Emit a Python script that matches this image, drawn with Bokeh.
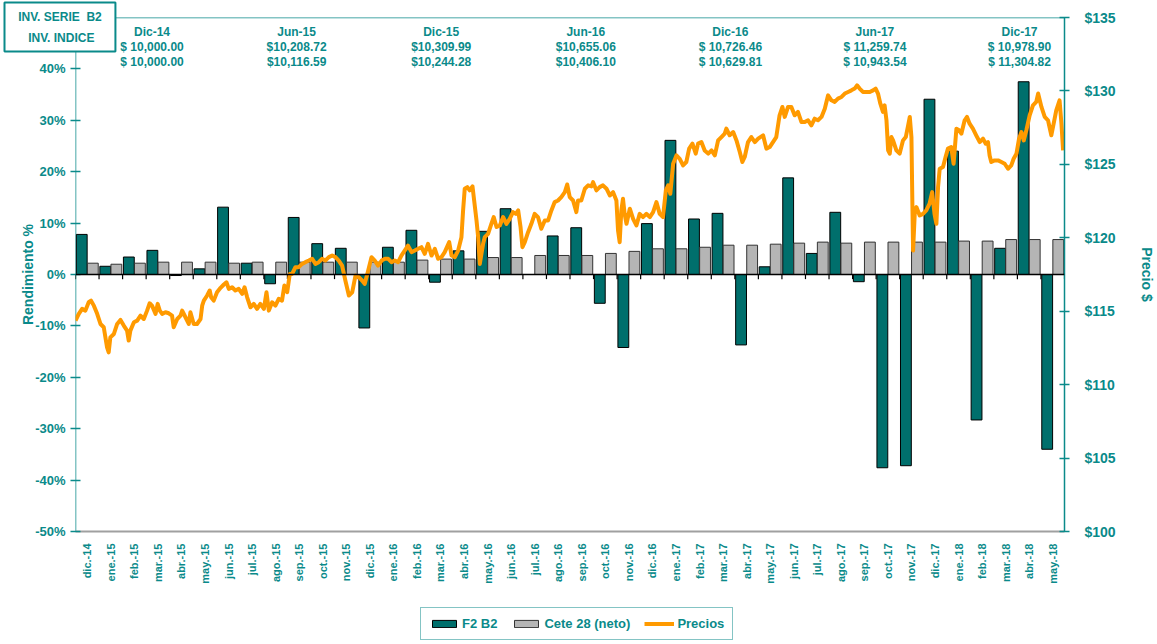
import math
from bokeh.plotting import figure
from bokeh.layouts import column
from bokeh.models import (Range1d, LinearAxis, FixedTicker, Span, Legend,
                          LegendItem, ColumnDataSource)
from bokeh.core.properties import value
from bokeh.embed import file_html
from bokeh.resources import INLINE

# ---------------- data ----------------
months = ["dic.-14", "ene.-15", "feb.-15", "mar.-15", "abr.-15", "may.-15", "jun.-15",
          "jul.-15", "ago.-15", "sep.-15", "oct.-15", "nov.-15", "dic.-15", "ene.-16",
          "feb.-16", "mar.-16", "abr.-16", "may.-16", "jun.-16", "jul.-16", "ago.-16",
          "sep.-16", "oct.-16", "nov.-16", "dic.-16", "ene.-17", "feb.-17", "mar.-17",
          "abr.-17", "may.-17", "jun.-17", "jul.-17", "ago.-17", "sep.-17", "oct.-17",
          "nov.-17", "dic.-17", "ene.-18", "feb.-18", "mar.-18", "abr.-18", "may.-18"]

f2_b2 = [7.8, 1.6, 3.4, 4.7, -0.2, 1.1, 13.1, 2.2, -1.8, 11.1, 6.0, 5.1, -10.4, 5.3,
         8.6, -1.5, 4.6, 8.4, 12.8, 0.0, 7.5, 9.1, -5.6, -14.2, 9.9, 26.1, 10.8, 11.9,
         -13.7, 1.5, 18.8, 4.1, 12.1, -1.4, -37.6, -37.2, 34.1, 24.0, -28.3, 5.1, 37.5, -34.0]

cete28 = [2.2, 2.0, 2.2, 2.4, 2.4, 2.4, 2.2, 2.4, 2.4, 2.4, 2.4, 2.4, 2.4, 2.4,
          2.8, 3.0, 3.0, 3.3, 3.3, 3.7, 3.7, 3.7, 4.1, 4.5, 5.0, 5.0, 5.3, 5.7,
          5.7, 5.9, 6.1, 6.3, 6.1, 6.3, 6.3, 6.3, 6.3, 6.5, 6.5, 6.8, 6.8, 6.8]

# price series: (months elapsed since start of dic-14, price $)
precios = [
    (0.00, 114.36), (0.14, 114.82), (0.28, 115.16), (0.42, 115.04), (0.56, 115.61), (0.66, 115.72),
    (0.78, 115.38), (0.92, 114.82), (1.06, 114.13), (1.20, 113.91), (1.34, 112.54), (1.41, 112.20),
    (1.48, 113.22), (1.63, 113.45), (1.77, 114.13), (1.91, 114.41), (2.05, 114.02), (2.19, 113.68),
    (2.26, 113.00), (2.33, 113.68), (2.48, 114.25), (2.62, 114.36), (2.76, 114.70), (2.90, 114.47),
    (3.04, 115.04), (3.15, 115.54), (3.25, 115.38), (3.40, 114.82), (3.49, 115.50), (3.58, 115.04),
    (3.68, 114.82), (3.82, 114.93), (3.96, 114.86), (4.10, 114.70), (4.17, 113.91), (4.32, 114.47),
    (4.46, 114.70), (4.53, 115.04), (4.67, 114.59), (4.81, 114.13), (4.88, 114.93), (5.02, 114.13),
    (5.16, 114.13), (5.31, 114.47), (5.38, 115.38), (5.45, 115.72), (5.59, 116.07), (5.70, 116.41),
    (5.76, 115.95), (5.87, 115.72), (6.01, 116.29), (6.16, 116.59), (6.30, 116.82), (6.41, 116.97),
    (6.51, 116.52), (6.65, 116.63), (6.79, 116.41), (6.93, 116.52), (7.08, 116.18), (7.18, 116.63),
    (7.29, 115.95), (7.43, 115.27), (7.57, 115.50), (7.71, 115.16), (7.85, 115.50), (8.00, 115.16),
    (8.11, 116.29), (8.21, 115.04), (8.35, 115.61), (8.49, 115.38), (8.63, 115.84), (8.77, 115.72),
    (8.87, 116.75), (8.99, 116.29), (9.10, 117.54), (9.20, 117.54), (9.34, 118.00), (9.48, 118.00),
    (9.62, 118.22), (9.76, 118.34), (9.91, 118.45), (10.05, 118.57), (10.19, 118.22), (10.33, 118.34),
    (10.47, 118.57), (10.61, 118.45), (10.76, 118.68), (10.90, 118.79), (11.04, 118.68), (11.18, 118.45),
    (11.32, 118.11), (11.46, 117.09), (11.61, 116.07), (11.75, 116.29), (11.89, 117.43), (12.03, 117.32),
    (12.17, 117.09), (12.28, 116.86), (12.43, 117.77), (12.57, 118.68), (12.71, 118.45), (12.85, 118.11),
    (13.00, 118.45), (13.14, 118.57), (13.28, 118.57), (13.42, 118.34), (13.56, 118.45), (13.70, 118.34),
    (13.84, 118.79), (13.98, 119.13), (14.12, 119.47), (14.27, 119.02), (14.41, 119.13), (14.55, 119.25),
    (14.69, 119.36), (14.83, 118.91), (14.97, 119.59), (15.12, 118.79), (15.26, 119.25), (15.40, 118.57),
    (15.54, 118.68), (15.68, 119.02), (15.87, 119.70), (15.97, 118.79), (16.11, 118.68), (16.25, 119.13),
    (16.39, 120.04), (16.46, 121.86), (16.53, 123.34), (16.64, 123.45), (16.74, 123.23), (16.86, 123.50),
    (16.93, 122.54), (17.03, 121.18), (17.10, 120.04), (17.17, 118.22), (17.24, 118.91), (17.31, 119.59),
    (17.38, 120.04), (17.52, 120.27), (17.66, 120.95), (17.76, 121.41), (17.88, 120.73), (18.02, 120.84),
    (18.16, 121.41), (18.30, 120.95), (18.44, 121.29), (18.58, 121.75), (18.70, 121.63), (18.80, 121.86),
    (18.90, 120.73), (18.98, 119.36), (19.08, 119.70), (19.22, 120.38), (19.36, 120.95), (19.50, 121.63),
    (19.64, 121.41), (19.78, 120.61), (19.93, 121.18), (20.07, 121.18), (20.21, 121.86), (20.35, 122.43),
    (20.49, 122.54), (20.63, 122.77), (20.78, 123.11), (20.88, 123.63), (20.99, 122.77), (21.13, 122.54),
    (21.27, 121.75), (21.34, 122.54), (21.48, 122.54), (21.63, 123.34), (21.77, 123.57), (21.91, 123.50),
    (21.98, 123.79), (22.12, 123.23), (22.26, 123.45), (22.40, 123.57), (22.55, 123.34), (22.69, 122.88),
    (22.83, 123.11), (22.97, 122.54), (23.04, 120.50), (23.11, 119.70), (23.18, 121.86), (23.25, 122.66),
    (23.32, 121.63), (23.40, 120.95), (23.54, 121.98), (23.68, 121.29), (23.82, 120.84), (23.96, 121.63),
    (24.10, 121.41), (24.24, 121.63), (24.39, 121.41), (24.53, 121.75), (24.67, 122.43), (24.81, 121.63),
    (24.95, 121.41), (25.07, 123.23), (25.17, 123.57), (25.26, 123.00), (25.38, 125.04), (25.52, 125.61),
    (25.66, 125.38), (25.80, 124.93), (25.94, 125.16), (26.06, 126.07), (26.20, 126.41), (26.34, 125.73),
    (26.44, 126.41), (26.58, 126.52), (26.72, 125.95), (26.87, 125.73), (27.01, 125.95), (27.15, 125.61),
    (27.29, 126.63), (27.43, 126.86), (27.57, 127.09), (27.64, 127.43), (27.78, 126.98), (27.93, 127.20),
    (28.07, 126.63), (28.21, 125.84), (28.32, 125.16), (28.42, 125.50), (28.56, 126.52), (28.70, 126.86),
    (28.85, 126.52), (28.99, 126.75), (29.20, 126.98), (29.34, 126.07), (29.48, 126.18), (29.62, 126.52),
    (29.76, 126.86), (29.90, 128.34), (30.02, 128.91), (30.12, 128.23), (30.26, 128.91), (30.40, 128.91),
    (30.54, 128.34), (30.68, 128.57), (30.83, 127.88), (30.97, 127.88), (31.11, 128.00), (31.25, 127.66),
    (31.39, 128.11), (31.53, 128.00), (31.68, 128.23), (31.82, 128.79), (31.96, 129.70), (32.10, 129.36),
    (32.24, 129.25), (32.38, 129.48), (32.53, 129.59), (32.67, 129.82), (32.81, 129.93), (32.95, 130.04),
    (33.09, 130.16), (33.19, 130.38), (33.30, 130.16), (33.44, 129.93), (33.59, 129.93), (33.73, 129.93),
    (33.87, 130.04), (33.98, 130.16), (34.08, 129.82), (34.18, 129.13), (34.29, 128.57), (34.36, 129.02),
    (34.44, 128.00), (34.51, 125.95), (34.58, 125.73), (34.65, 126.86), (34.72, 126.63), (34.86, 125.95),
    (35.00, 125.73), (35.14, 126.63), (35.26, 126.86), (35.36, 127.66), (35.43, 128.23), (35.50, 126.86),
    (35.54, 122.32), (35.57, 119.13), (35.64, 121.63), (35.71, 122.09), (35.85, 121.52), (35.99, 121.63),
    (36.13, 121.86), (36.27, 122.32), (36.38, 123.11), (36.48, 121.63), (36.56, 120.95), (36.63, 123.45),
    (36.70, 124.70), (36.84, 124.82), (36.95, 125.50), (37.05, 126.07), (37.19, 126.18), (37.29, 125.04),
    (37.41, 127.43), (37.52, 127.32), (37.62, 127.09), (37.76, 128.00), (37.86, 128.23), (37.97, 127.77),
    (38.11, 127.43), (38.25, 126.98), (38.40, 126.52), (38.54, 126.75), (38.65, 126.41), (38.75, 126.52),
    (38.82, 125.61), (38.89, 125.16), (39.03, 125.27), (39.18, 125.27), (39.32, 125.16), (39.46, 125.04),
    (39.60, 124.70), (39.74, 124.93), (39.84, 125.38), (39.96, 125.73), (40.07, 126.75), (40.17, 127.20),
    (40.27, 126.63), (40.38, 127.32), (40.52, 128.34), (40.66, 129.02), (40.80, 129.25), (40.88, 129.82),
    (41.02, 128.91), (41.16, 128.23), (41.30, 128.00), (41.44, 126.98), (41.51, 127.54), (41.65, 128.68),
    (41.79, 129.36), (41.87, 127.77), (41.94, 125.95),
]

summary_dates = ["Dic-14", "Jun-15", "Dic-15", "Jun-16", "Dic-16", "Jun-17", "Dic-17"]
serie_b2 = ["$ 10,000.00", "$10,208.72", "$10,309.99", "$10,655.06",
            "$ 10,726.46", "$ 11,259.74", "$ 10,978.90"]
inv_indice = ["$ 10,000.00", "$10,116.59", "$10,244.28", "$10,406.10",
              "$ 10,629.81", "$ 10,943.54", "$ 11,304.82"]
NB = "\u00a0"
box_text = NB * 2 + "INV. SERIE" + NB + " B2" + NB * 2 + "\n" + NB * 5 + "INV. INDICE"

left_ticks = [-50, -40, -30, -20, -10, 0, 10, 20, 30, 40]
right_ticks = [100, 105, 110, 115, 120, 125, 130, 135]

# ---------------- style ----------------
TEAL = "#0A8A8A"
BAR_TEAL = "#006F6C"
BAR_GRAY = "#B5B5B5"
ORANGE = "#FF9A00"
FONT = "Liberation Sans"

n = len(months)

p = figure(width=1157, height=600, output_backend="svg", toolbar_location=None,
           x_range=Range1d(0, n), y_range=Range1d(-50, 50),
           min_border_left=75, min_border_right=93, min_border_top=17, min_border_bottom=69,
           background_fill_color="white", border_fill_color="white")
p.xgrid.visible = False
p.ygrid.visible = False
p.outline_line_color = None

# frame edges (top, left)
p.add_layout(Span(location=50, dimension="width", line_color=TEAL, line_width=1.5, level="underlay"))
p.add_layout(Span(location=0, dimension="height", line_color=TEAL, line_width=1.5, level="underlay"))

# caption box (figure title pulled down over the top-left corner)
t = p.title
t.text = box_text
t.align = "left"
t.offset = -71
t.standoff = -68
t.text_color = TEAL
t.text_font = FONT
t.text_font_style = "bold"
t.text_font_size = "12px"
t.border_line_color = TEAL
t.border_line_width = 2
t.background_fill_color = "white"
t.padding = 7
try:
    t.text_line_height = 1.5
except Exception:
    pass

# x axis (categories)
xa = p.xaxis[0]
xa.ticker = FixedTicker(ticks=[i + 0.5 for i in range(n)])
xa.major_label_overrides = {i + 0.5: m for i, m in enumerate(months)}
xa.major_label_orientation = math.pi / 2
xa.major_label_text_color = TEAL
xa.major_label_text_font = FONT
xa.major_label_text_font_style = "bold"
xa.major_label_text_font_size = "11px"
xa.major_label_standoff = 6
xa.major_tick_line_color = None
xa.minor_tick_line_color = None
xa.axis_line_color = "#A0A0A0"
xa.axis_line_width = 2

# left axis
ya = p.yaxis[0]
ya.ticker = FixedTicker(ticks=left_ticks)
ya.major_label_overrides = {v: f"{v}%" for v in left_ticks}
ya.major_label_text_color = TEAL
ya.major_label_text_font = FONT
ya.major_label_text_font_style = "bold"
ya.major_label_text_font_size = "13px"
ya.axis_line_color = None
ya.major_tick_line_color = TEAL
ya.major_tick_line_width = 1.5
ya.major_tick_in = 5
ya.major_tick_out = 5
ya.minor_tick_line_color = None
ya.axis_label = "Rendimiento %"
ya.axis_label_text_color = TEAL
ya.axis_label_text_font = FONT
ya.axis_label_text_font_style = "bold"
ya.axis_label_text_font_size = "14px"
ya.axis_label_standoff = -4

# right axis (price)
p.extra_y_ranges = {"precio": Range1d(100, 135)}
ra = LinearAxis(y_range_name="precio", ticker=FixedTicker(ticks=right_ticks),
                major_label_overrides={v: f"${v}" for v in right_ticks},
                axis_label="Precio $")
ra.major_label_text_color = TEAL
ra.major_label_text_font = FONT
ra.major_label_text_font_style = "bold"
ra.major_label_text_font_size = "14px"
ra.axis_line_color = TEAL
ra.axis_line_width = 1.5
ra.major_tick_line_color = TEAL
ra.major_tick_line_width = 1.5
ra.major_tick_in = 5
ra.major_tick_out = 5
ra.minor_tick_line_color = None
ra.major_label_standoff = 15
ra.axis_label_text_color = TEAL
ra.axis_label_text_font = FONT
ra.axis_label_text_font_style = "bold"
ra.axis_label_text_font_size = "14px"
ra.axis_label_standoff = 20
p.add_layout(ra, "right")

# bars
src = ColumnDataSource(dict(
    xf=[i + 0.265 for i in range(n)],
    xc=[i + 0.735 for i in range(n)],
    f2=f2_b2, cete=cete28))
bar_f2_style = dict(fill_color=BAR_TEAL, line_color="black", line_width=1)
bar_ce_style = dict(fill_color=BAR_GRAY, line_color="#333333", line_width=1)
line_style = dict(line_color=ORANGE, line_width=4, line_join="round")

p.vbar(x="xf", top="f2", bottom=0, width=0.46, source=src, **bar_f2_style)
p.vbar(x="xc", top="cete", bottom=0, width=0.46, source=src, **bar_ce_style)

# zero line with category ticks
p.add_layout(Span(location=0, dimension="width", line_color="black", line_width=1.5))
p.segment(x0=list(range(n + 1)), y0=[0] * (n + 1), x1=list(range(n + 1)), y1=[-0.9] * (n + 1),
          line_color="black", line_width=1.2)

# price line
price_x = [tt for tt, _ in precios]
price_y = [v for _, v in precios]
p.line(x=price_x, y=price_y, y_range_name="precio", **line_style)

# summary texts at top
xs = [3.25 + i * 6.14 for i in range(len(summary_dates))]
for txt, yy in ((summary_dates, 47.1), (serie_b2, 44.2), (inv_indice, 41.3)):
    p.text(x=xs, y=[yy] * len(xs), text=txt, text_align="center", text_baseline="middle",
           text_color=TEAL, text_font=value(FONT), text_font_style="bold",
           text_font_size="12px")

# ---------------- legend strip below the chart ----------------
lf = figure(width=1157, height=44, output_backend="svg", toolbar_location=None,
            x_range=Range1d(0, n), y_range=Range1d(-50, 50), x_axis_type=None, y_axis_type=None,
            min_border_left=75, min_border_right=93, min_border_top=0, min_border_bottom=0,
            background_fill_color="white", border_fill_color="white")
lf.outline_line_color = None
lf.xgrid.visible = False
lf.ygrid.visible = False
# hidden copies of the series, used only to draw the legend swatches
k1 = lf.vbar(x="xf", top="f2", bottom=0, width=0.46, source=src, visible=False, **bar_f2_style)
k2 = lf.vbar(x="xc", top="cete", bottom=0, width=0.46, source=src, visible=False, **bar_ce_style)
k3 = lf.line(x=price_x, y=price_y, visible=False, **line_style)
legend = Legend(items=[LegendItem(label="F2 B2", renderers=[k1]),
                       LegendItem(label="Cete 28 (neto)", renderers=[k2]),
                       LegendItem(label="Precios", renderers=[k3])],
                orientation="horizontal", location=(345, 4),
                label_text_color=TEAL, label_text_font=FONT, label_text_font_style="bold",
                label_text_font_size="13px", border_line_color=TEAL, border_line_width=1.5,
                glyph_width=30, glyph_height=9, spacing=14, padding=8, margin=0,
                label_standoff=3, background_fill_color="white")
lf.add_layout(legend)

layout = column(p, lf, spacing=0)
open("out.html", "w").write(file_html(layout, INLINE))
